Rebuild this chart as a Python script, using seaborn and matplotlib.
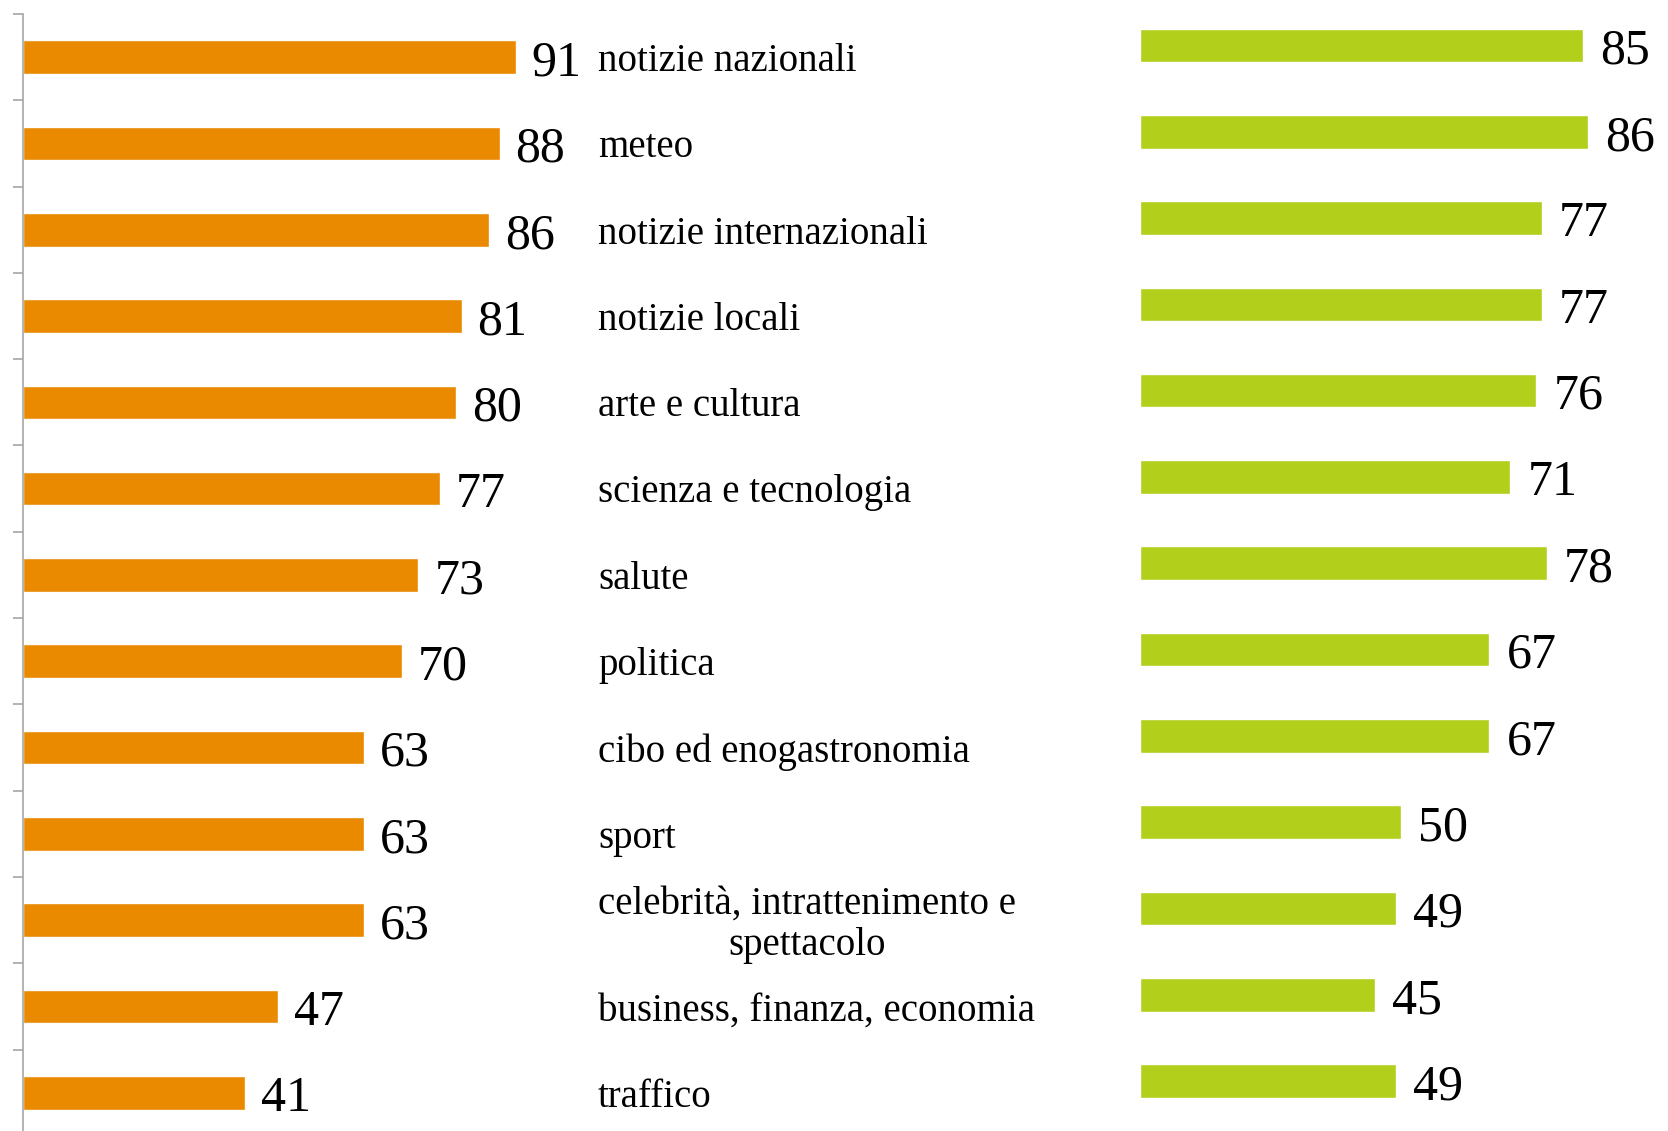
import matplotlib
matplotlib.use("Agg")
import matplotlib.pyplot as plt
import seaborn as sns
import pandas as pd

# categories (top to bottom) and the two series
categories = [
    'notizie nazionali', 'meteo', 'notizie internazionali', 'notizie locali',
    'arte e cultura', 'scienza e tecnologia', 'salute', 'politica',
    'cibo ed enogastronomia', 'sport', 'celebrità, intrattenimento e\nspettacolo',
    'business, finanza, economia', 'traffico'
]
left_values = [91, 88, 86, 81, 80, 77, 73, 70, 63, 63, 63, 47, 41]
right_values = [85, 86, 77, 77, 76, 71, 78, 67, 67, 50, 49, 45, 49]

orange = '#E98A00'
green = '#B1CF1B'
serif = 'Liberation Serif'

sns.set_style("white")
plt.rcParams['font.family'] = [serif, 'DejaVu Serif']

W, H = 1668, 1131
fig = plt.figure(figsize=(W / 100, H / 100), dpi=100)

band_top = 14
band_h = 86.3
n = len(categories)
ax_h = band_h * n / H
ax_bottom = 1 - band_top / H - ax_h

df = pd.DataFrame({'cat': categories, 'left': left_values, 'right': right_values})

# left (orange) panel
ax1 = fig.add_axes([23 / W, ax_bottom, 541.5 / W, ax_h])
sns.barplot(data=df, y='cat', x='left', color=orange, orient='h', width=0.39,
            saturation=1, ax=ax1)
ax1.set_xlim(0, 100)
ax1.set_ylim(n - 0.5, -0.5)
ax1.set_xlabel('')
ax1.set_ylabel('')
ax1.set_xticks([])
ax1.set_yticks([i - 0.5 for i in range(n + 1)])
ax1.set_yticklabels([])
ax1.tick_params(axis='y', left=True, length=7.5, width=1.2, color='#A6A6A6', direction='out')
for s in ['top', 'right', 'bottom']:
    ax1.spines[s].set_visible(False)
ax1.spines['left'].set_color('#A6A6A6')
ax1.spines['left'].set_linewidth(1.2)
ax1.patch.set_alpha(0)

px = 100 / 541.5
for i, v in enumerate(left_values):
    ax1.text(v + 16 * px, i + 0.07, str(v), fontsize=36, va='center', ha='left',
             color='black', clip_on=False)

# category labels in the middle
for i, c in enumerate(categories):
    ax1.text((598 - 23) * px, i + 0.05, c, fontsize=28, va='center', ha='left',
             multialignment='center', linespacing=1.15, color='black', clip_on=False)

# right (green) panel, slightly higher than the orange bars
ax2 = fig.add_axes([1140.4 / W, ax_bottom + 11.7 / H, 521 / W, ax_h])
sns.barplot(data=df, y='cat', x='right', color=green, orient='h', width=0.39,
            saturation=1, ax=ax2)
ax2.set_xlim(0, 100)
ax2.set_ylim(n - 0.5, -0.5)
ax2.set_xlabel('')
ax2.set_ylabel('')
ax2.set_xticks([])
ax2.set_yticks([])
for s in ax2.spines.values():
    s.set_visible(False)
ax2.patch.set_alpha(0)

px2 = 100 / 521
for i, v in enumerate(right_values):
    ax2.text(v + 17 * px2, i + 0.07, str(v), fontsize=36, va='center', ha='left',
             color='black', clip_on=False)

fig.savefig('out.png', dpi=100)
